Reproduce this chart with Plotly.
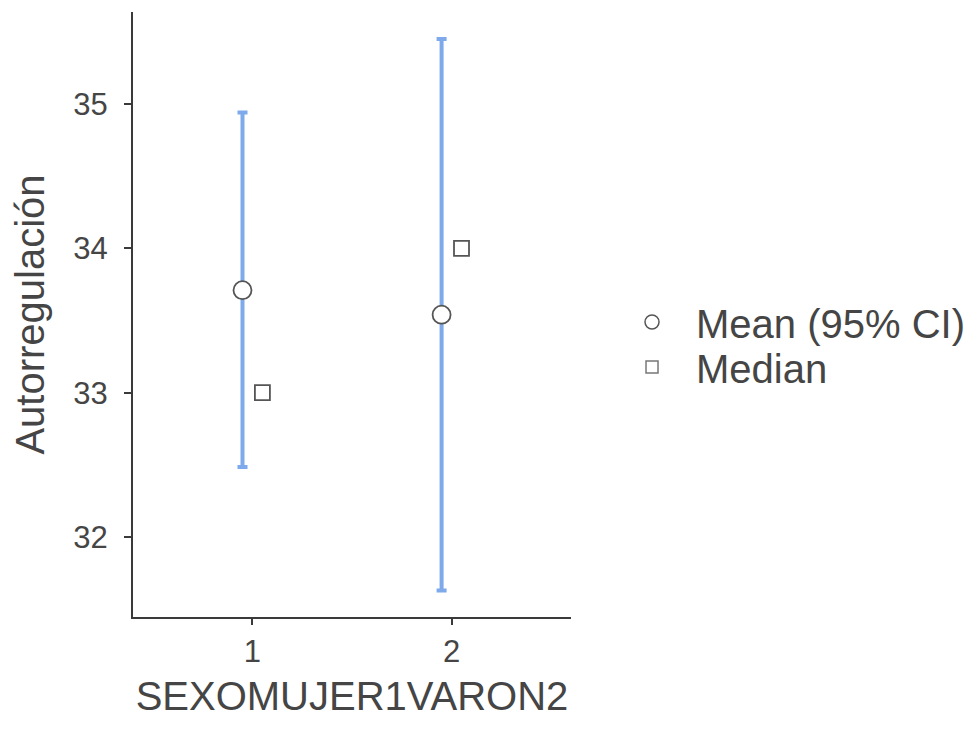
import plotly.graph_objects as go

groups = ["1", "2"]
means = [33.71, 33.54]
ci_lower = [32.485, 31.63]
ci_upper = [34.94, 35.45]
medians = [33.0, 34.0]
y_ticks = [32, 33, 34, 35]

x_pos = [i + 1 for i in range(len(groups))]
x_mean = [x - 0.05 for x in x_pos]
x_med = [x + 0.05 for x in x_pos]

err_plus = [u - m for u, m in zip(ci_upper, means)]
err_minus = [m - l for m, l in zip(means, ci_lower)]

FONT = "Liberation Sans, Arial, sans-serif"
AX = "#3a3a3a"
TXT = "#454545"
BLUE = "#7ea9eb"

fig = go.Figure()
fig.add_trace(go.Scatter(
    x=x_mean, y=means, mode="markers", showlegend=False,
    marker=dict(symbol="circle", size=18, color="white",
                line=dict(color="#555555", width=1.8)),
    error_y=dict(type="data", symmetric=False, array=err_plus,
                 arrayminus=err_minus, color=BLUE, thickness=4, width=5),
))
fig.add_trace(go.Scatter(
    x=x_med, y=medians, mode="markers", showlegend=False,
    marker=dict(symbol="square", size=15, color="white",
                line=dict(color="#555555", width=1.8)),
))
# legend entries
fig.add_trace(go.Scatter(
    x=[None], y=[None], mode="markers", name="Mean (95% CI)", legend="legend",
    marker=dict(symbol="circle", size=14, color="white",
                line=dict(color="#555555", width=1.5)),
))
fig.add_trace(go.Scatter(
    x=[None], y=[None], mode="markers", name="Median", legend="legend2",
    marker=dict(symbol="square", size=12, color="white",
                line=dict(color="#777777", width=1.5)),
))

leg_common = dict(xanchor="left", yanchor="middle",
                  font=dict(size=40, color=TXT, family=FONT),
                  bgcolor="rgba(0,0,0,0)", itemwidth=78)

fig.update_layout(
    width=973, height=738,
    margin=dict(l=125, r=410, t=4, b=129),
    paper_bgcolor="white", plot_bgcolor="white",
    font=dict(family=FONT, color=TXT),
    legend=dict(x=1.0845, y=0.4876, **leg_common),
    legend2=dict(x=1.0845, y=0.4132, **leg_common),
)
fig.update_xaxes(
    range=[0.4, 2.6], tickvals=x_pos, ticktext=groups,
    showgrid=False, zeroline=False, showline=True, linecolor=AX, linewidth=2,
    ticks="outside", ticklen=6, tickwidth=2, tickcolor=AX,
    tickfont=dict(size=31, color=TXT),
    title=dict(text="SEXOMUJER1VARON2", font=dict(size=40, color=TXT), standoff=14),
)
fig.update_yaxes(
    range=[31.446, 35.637], tickvals=y_ticks,
    showgrid=False, zeroline=False, showline=True, linecolor=AX, linewidth=2,
    ticks="outside", ticklen=7, tickwidth=2, tickcolor=AX, ticklabelstandoff=10,
    tickfont=dict(size=31, color=TXT),
    title=dict(text="Autorregulación", font=dict(size=40, color=TXT), standoff=22),
)

fig.write_html("out.html")
